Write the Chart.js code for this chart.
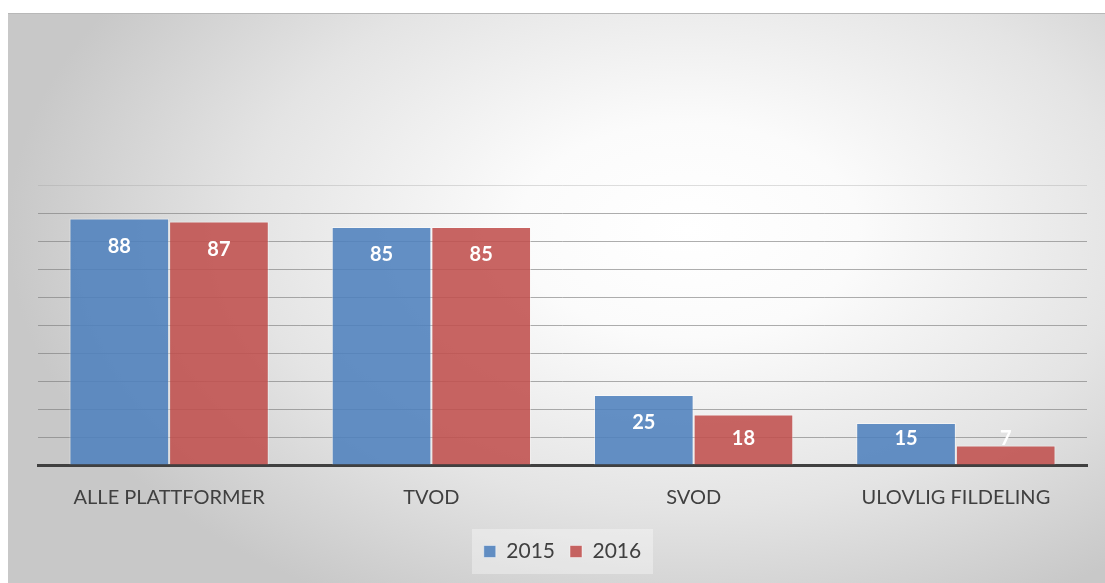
<!DOCTYPE html>
<html>
<head>
<meta charset="utf-8">
<script src="https://cdn.jsdelivr.net/npm/chart.js@4.4.0/dist/chart.umd.min.js"></script>
<style>
  html, body { margin: 0; padding: 0; background: #ffffff; }
  body { width: 1105px; height: 583px; position: relative; overflow: hidden; }
  #frame {
    position: absolute; left: 8px; top: 13px; width: 1097px; height: 570px;
    border-top: 1px solid #b8b8b8; box-sizing: border-box;
    background: radial-gradient(ellipse 62% 75% at 62% 38%, #ffffff 0%, #fbfbfb 25%, #e4e4e4 65%, #c8c8c8 100%);
  }
  #frame canvas { position: absolute; left: 0; top: 0; }
</style>
</head>
<body>
<div id="frame"><canvas id="c" width="1097" height="569"></canvas></div>
<script>
const categories = ["ALLE PLATTFORMER", "TVOD", "SVOD", "ULOVLIG FILDELING"];
const seriesNames = ["2015", "2016"];
const values2015 = [88, 85, 25, 15];
const values2016 = [87, 85, 18, 7];
const yTicks = [0, 10, 20, 30, 40, 50, 60, 70, 80, 90, 100];

const FONT = "Lato, 'Open Sans', 'Noto Sans', sans-serif";

const labelPlugin = {
  id: 'barLabels',
  afterDatasetsDraw(chart) {
    const ctx = chart.ctx;
    ctx.save();
    ctx.font = "bold 20px " + FONT;
    ctx.fillStyle = "#ffffff";
    ctx.textAlign = "center";
    ctx.textBaseline = "middle";
    chart.data.datasets.forEach((ds, i) => {
      const meta = chart.getDatasetMeta(i);
      meta.data.forEach((el, j) => {
        const y = Math.min(el.y + 28, el.base - 26);
        ctx.fillText(String(ds.data[j]), el.x, y);
      });
    });
    ctx.restore();
  }
};

const legendBg = {
  id: 'legendBg',
  beforeDraw(chart) {
    const l = chart.legend;
    if (!l || !l.legendHitBoxes || !l.legendHitBoxes.length) return;
    const ctx = chart.ctx;
    ctx.save();
    ctx.fillStyle = "rgba(255,255,255,0.35)";
    const w = 181, h = 45;
    const cx = (l.left + l.right) / 2;
    const hb = l.legendHitBoxes[0];
    const cy = hb.top + hb.height / 2;
    ctx.fillRect(cx - w / 2, cy - h / 2, w, h);
    ctx.restore();
  }
};

new Chart(document.getElementById('c'), {
  type: 'bar',
  data: {
    labels: categories,
    datasets: [
      { label: seriesNames[0], data: values2015, backgroundColor: "rgba(79,129,189,0.88)", borderColor: "rgba(255,255,255,0.45)", borderWidth: 1 },
      { label: seriesNames[1], data: values2016, backgroundColor: "rgba(192,80,77,0.88)", borderColor: "rgba(255,255,255,0.45)", borderWidth: 1 }
    ]
  },
  options: {
    responsive: false,
    animation: false,
    layout: { padding: { left: 30, right: 18, top: 171, bottom: 11 } },
    datasets: { bar: { categoryPercentage: 0.76, barPercentage: 1.0 } },
    scales: {
      x: {
        afterFit(scale) { scale.height -= 5; },
        grid: { display: false, drawTicks: false },
        border: { display: true, color: "#404040", width: 3 },
        ticks: { color: "#404040", font: { family: FONT, size: 20 }, padding: 21 }
      },
      y: {
        min: 0, max: 100,
        afterBuildTicks(axis) { axis.ticks = yTicks.map(v => ({ value: v })); },
        grid: {
          color: (c) => c.tick && c.tick.value === 100 ? "rgba(160,160,160,0.35)" : "rgba(120,120,120,0.6)",
          lineWidth: 1, drawTicks: false
        },
        border: { display: false },
        ticks: { display: false }
      }
    },
    plugins: {
      legend: {
        position: 'bottom',
        labels: {
          color: "#404040",
          font: { family: FONT, size: 21 },
          boxWidth: 12, boxHeight: 12, padding: 15
        }
      },
      tooltip: { enabled: false }
    }
  },
  plugins: [legendBg, labelPlugin]
});
</script>
</body>
</html>
